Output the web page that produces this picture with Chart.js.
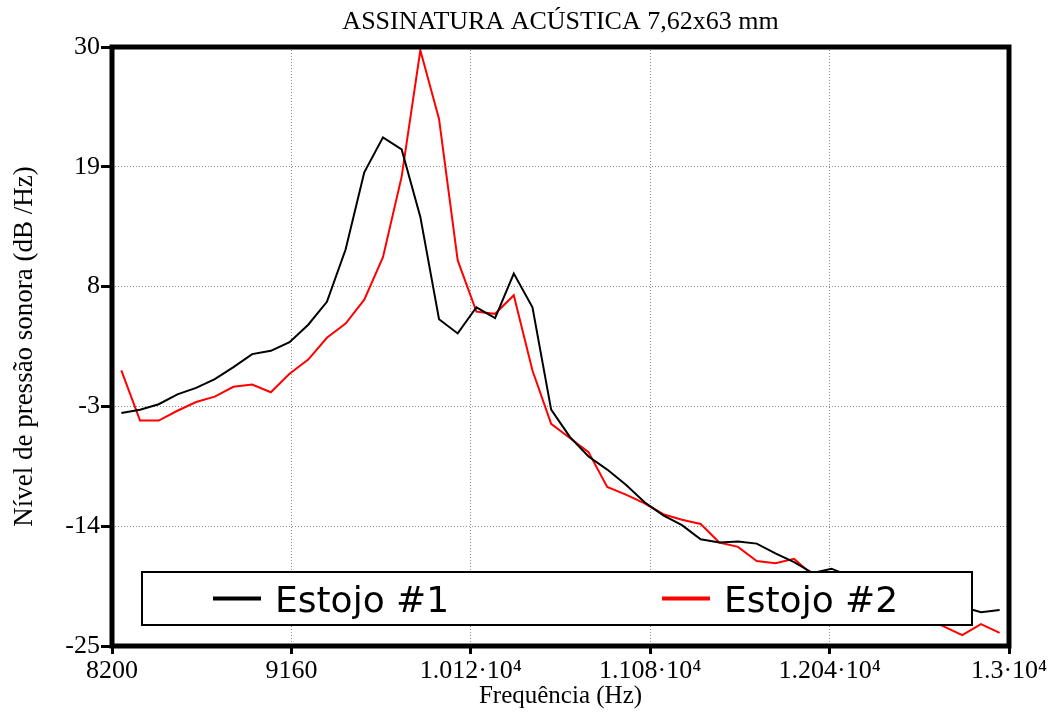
<!DOCTYPE html>
<html>
<head>
<meta charset="utf-8">
<script src="https://cdn.jsdelivr.net/npm/chart.js@4.4.1/dist/chart.umd.min.js"></script>
<style>
  html, body { margin: 0; padding: 0; background: #fff; }
  #wrap { width: 1053px; height: 715px; }
</style>
</head>
<body>
<div id="wrap"><canvas id="line-chart"></canvas></div>
<script>
// frequencias (Hz)
const freqs = [
  8250, 8350, 8450, 8550, 8650, 8750, 8850, 8950, 9050, 9150,
  9250, 9350, 9450, 9550, 9650, 9750, 9850, 9950, 10050, 10150,
  10250, 10350, 10450, 10550, 10650, 10750, 10850, 10950, 11050, 11150,
  11250, 11350, 11450, 11550, 11650, 11750, 11850, 11950, 12050, 12150,
  12250, 12350, 12450, 12550, 12650, 12750, 12850, 12950
]

// nivel de pressao sonora (dB/Hz)
const estojo1 = [
  -3.6, -3.3, -2.8, -1.9, -1.3, -0.5, 0.6, 1.8, 2.1, 2.9,
  4.5, 6.6, 11.4, 18.5, 21.7, 20.6, 14.4, 5.0, 3.7, 6.1,
  5.1, 9.2, 6.1, -3.3, -5.8, -7.6, -8.8, -10.2, -11.8, -13.0,
  -13.9, -15.2, -15.5, -15.4, -15.6, -16.5, -17.3, -18.3, -17.9, -18.6,
  -19.1, -19.4, -20.0, -20.3, -20.9, -21.4, -21.9, -21.7
]
const estojo2 = [
  0.3, -4.3, -4.3, -3.4, -2.6, -2.1, -1.2, -1.0, -1.7, 0.0,
  1.3, 3.3, 4.6, 6.8, 10.7, 18.1, 29.7, 23.4, 10.4, 5.7,
  5.5, 7.2, 0.3, -4.6, -5.9, -7.2, -10.4, -11.1, -11.9, -12.9,
  -13.4, -13.8, -15.5, -15.9, -17.2, -17.4, -17.0, -18.5, -19.0, -19.6,
  -20.3, -21.0, -21.6, -22.4, -23.2, -24.0, -23.0, -23.8
]

const xTickLabels = ['8200', '9160', '1.012·10⁴', '1.108·10⁴', '1.204·10⁴', '1.3·10⁴']
const yTicks = [-25, -14, -3, 8, 19, 30]
const chartTitle = 'ASSINATURA ACÚSTICA 7,62x63 mm'

const serif = '"Liberation Serif", "Times New Roman", serif'

// titulo centrado na area do grafico, caixa da legenda + moldura grossa
const framePlugin = {
  id: 'frame',
  afterDatasetsDraw(chart) {
    const { ctx, chartArea: a } = chart
    ctx.save()
    // titulo
    ctx.fillStyle = '#000'
    ctx.font = '26px ' + serif
    ctx.textAlign = 'center'
    ctx.textBaseline = 'middle'
    ctx.fillText(chartTitle, (a.left + a.right) / 2, a.top - 25)
    ctx.textAlign = 'left'
    // legenda
    const bl = a.left + 30, br = a.right - 37
    const bt = a.bottom - 74, bb = a.bottom - 21
    ctx.fillStyle = '#fff'
    ctx.fillRect(bl, bt, br - bl, bb - bt)
    ctx.strokeStyle = '#000'
    ctx.lineWidth = 2
    ctx.strokeRect(bl, bt, br - bl, bb - bt)
    const mid = (bt + bb) / 2
    chart.data.datasets.forEach((ds, i) => {
      const x0 = bl + 71 + i * 449
      ctx.strokeStyle = ds.borderColor
      ctx.lineWidth = 4
      ctx.beginPath()
      ctx.moveTo(x0, mid)
      ctx.lineTo(x0 + 48, mid)
      ctx.stroke()
      ctx.fillStyle = '#000'
      ctx.font = '36px "DejaVu Sans", Verdana, sans-serif'
      ctx.textBaseline = 'alphabetic'
      ctx.fillText(ds.label, x0 + 62, mid + 13)
    })
    // moldura
    ctx.strokeStyle = '#000'
    ctx.lineWidth = 5
    ctx.strokeRect(a.left, a.top, a.right - a.left, a.bottom - a.top)
    ctx.restore()
  }
}

const ctx = document.getElementById('line-chart').getContext('2d')
const chart = new Chart(ctx, {
  type: 'line',
  data: {
    datasets: [
      {
        label: 'Estojo #1',
        data: freqs.map((f, i) => ({ x: f, y: estojo1[i] })),
        borderColor: '#000000',
        borderWidth: 2,
        pointRadius: 0,
        tension: 0,
      },
      {
        label: 'Estojo #2',
        data: freqs.map((f, i) => ({ x: f, y: estojo2[i] })),
        borderColor: '#ff0000',
        borderWidth: 2,
        pointRadius: 0,
        tension: 0,
      },
    ],
  },
  options: {
    responsive: true,
    maintainAspectRatio: false,
    animation: false,
    layout: { padding: { left: 0, right: 44, top: 47, bottom: 0 } },
    plugins: {
      legend: { display: false },
      tooltip: { enabled: false },
      title: { display: false },
    },
    scales: {
      x: {
        type: 'linear',
        min: 8200,
        max: 13000,
        ticks: {
          stepSize: 960,
          autoSkip: false,
          maxRotation: 0,
          padding: 2,
          color: '#000',
          font: { family: serif, size: 26 },
          callback: (v, i) => xTickLabels[i],
        },
        grid: { color: '#8c8c8c', lineWidth: 1, tickColor: '#000', tickWidth: 3, tickLength: 8 },
        border: { display: false, dash: [1, 2] },
        title: {
          display: true,
          text: 'Frequência (Hz)',
          color: '#000',
          font: { family: serif, size: 25 },
          padding: { top: 0, bottom: 4 },
        },
        afterFit: (s) => { s.height = 69 },
      },
      y: {
        min: -25,
        max: 30,
        afterBuildTicks: (s) => { s.ticks = yTicks.map(v => ({ value: v })) },
        ticks: {
          padding: 1,
          color: '#000',
          font: { family: serif, size: 26 },
        },
        grid: { color: '#8c8c8c', lineWidth: 1, tickColor: '#000', tickWidth: 3, tickLength: 11 },
        border: { display: false, dash: [1, 2] },
        title: {
          display: true,
          text: 'Nível de pressão sonora (dB /Hz)',
          color: '#000',
          font: { family: serif, size: 27 },
          padding: { top: 9, bottom: 0 },
        },
        afterFit: (s) => { s.width = 112 },
      },
    },
  },
  plugins: [framePlugin],
})
</script>
</body>
</html>
